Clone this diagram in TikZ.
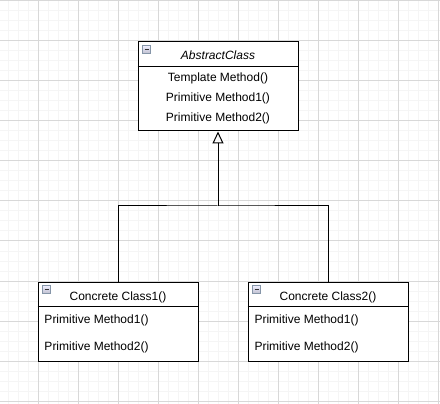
\documentclass[tikz,border=0pt]{standalone}
\usepackage{fontspec}
\setmainfont{Liberation Sans}
\usetikzlibrary{arrows.meta,positioning}
\definecolor{gridmajor}{HTML}{D8D8D8}
\definecolor{gridminor}{HTML}{F5F5F5}
\definecolor{iconedge}{HTML}{8595A8}

\begin{document}
\begin{tikzpicture}[x=1pt, y=-1pt, line width=1pt,
  every node/.style={font=\fontsize{12}{14}\selectfont},
  classbox/.style={draw, fill=white, minimum width=160, inner sep=0},
  classname/.style={inner sep=0},
  method/.style={inner sep=0},
  minorline/.style={draw=gridminor, line width=1pt},
  majorline/.style={draw=gridmajor, line width=1pt},
  collapse/.pic={
    \draw[draw=iconedge, line width=0.7pt, top color=blue!6!white, bottom color=blue!15!gray!45] (0,0) rectangle (8,8);
    \draw[line width=1.3pt, black!80] (2,4) -- (6,4);
  }]
\useasboundingbox (0,0) rectangle (440,404);
\fill[white] (0,0) rectangle (440,404);
% Draw grid
\foreach \x in {8,18,...,438} \draw[minorline] (\x,0) -- (\x,404);
\foreach \y in {1,11,...,401} \draw[minorline] (0,\y) -- (440,\y);
\foreach \x in {38,78,...,438} \draw[majorline] (\x,0) -- (\x,404);
\foreach \y in {1,41,...,401} \draw[majorline] (0,\y) -- (440,\y);
% Draw classes
\node[classbox, minimum height=89] (abs) at (218,86.5) {};
\node[classbox, minimum height=79] (cc1) at (118,321.5) {};
\node[classbox, minimum height=79] (cc2) at (328,321.5) {};
\draw ([yshift=-25pt]abs.north west) -- ([yshift=-25pt]abs.north east);
\draw ([yshift=-25pt]cc1.north west) -- ([yshift=-25pt]cc1.north east);
\draw ([yshift=-25pt]cc2.north west) -- ([yshift=-25pt]cc2.north east);
\pic at ([shift={(5,4)}]abs.north west) {collapse};
\pic at ([shift={(5,4)}]cc1.north west) {collapse};
\pic at ([shift={(5,4)}]cc2.north west) {collapse};
% Draw labels
\node[classname, font=\fontsize{12}{14}\selectfont\itshape] (absname) at (218,55) {AbstractClass};
\node[method] (tm) at (218,78) {Template Method()};
\node[method] (pm1) at (218,98) {Primitive Method1()};
\node[method] (pm2) at (218,118) {Primitive Method2()};
\node[classname] (cc1name) at (118,297) {Concrete Class1()};
\node[method, anchor=west] (cc1m1) at (44,320) {Primitive Method1()};
\node[method, anchor=west] (cc1m2) at (44,347) {Primitive Method2()};
\node[classname] (cc2name) at (328,297) {Concrete Class2()};
\node[method, anchor=west] (cc2m1) at (254,320) {Primitive Method1()};
\node[method, anchor=west] (cc2m2) at (254,347) {Primitive Method2()};
% Draw inheritance
\coordinate (jn) at (218,206);
\draw (cc1.north) |- (jn) -| (cc2.north);
\draw[-{Triangle[open, length=12pt, width=11pt]}] (jn) -- (abs.south);
\end{tikzpicture}
\end{document}
